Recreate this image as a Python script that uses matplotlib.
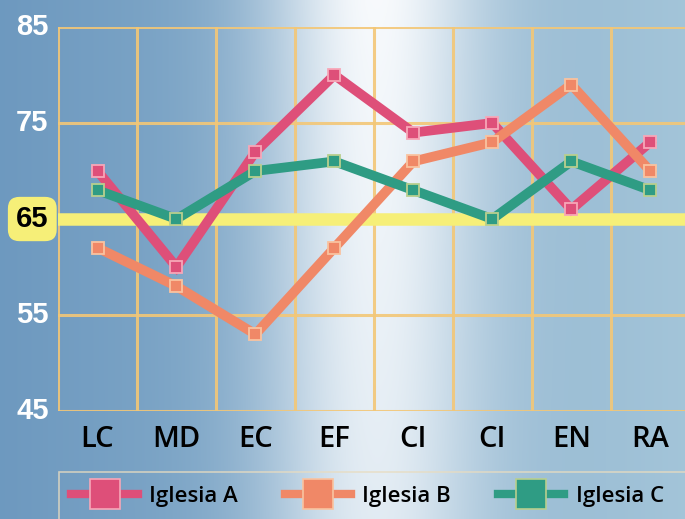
import matplotlib.pyplot as plt
import numpy as np
from matplotlib.patches import FancyBboxPatch
from matplotlib.lines import Line2D

# data
categories = ["LC", "MD", "EC", "EF", "CI", "CI", "EN", "RA"]
iglesia_a = [70, 60, 72, 80, 74, 75, 66, 73]
iglesia_b = [62, 58, 53, 62, 71, 73, 79, 70]
iglesia_c = [68, 65, 70, 71, 68, 65, 71, 68]
series_names = ["Iglesia A", "Iglesia B", "Iglesia C"]
y_ticks = [45, 55, 65, 75, 85]
ref_value = 65

colors = ["#de4f79", "#f08867", "#2f9c84"]
edge_colors = ["#f7a7b8", "#f9c3a0", "#b9cf8e"]
grid_color = "#f3c777"
yellow = "#f6ef78"

fig = plt.figure(figsize=(6.85, 5.19), dpi=100)

# background with bright spotlight in the middle
bg = fig.add_axes([0, 0, 1, 1])
bg.set_axis_off()
xx = np.linspace(0, 1, 400)
yy = np.linspace(0, 1, 300)
X, Y = np.meshgrid(xx, yy)
left = np.array([0.43, 0.60, 0.75])
right = np.array([0.64, 0.77, 0.85])
base = left[None, None, :] * (1 - X[..., None]) + right[None, None, :] * X[..., None]
spot = np.exp(-((X - 0.55) / 0.16) ** 2) * (0.8 + 0.2 * Y)
spot = np.clip(spot, 0, 1)[..., None]
img = base * (1 - spot) + np.array([0.97, 0.98, 0.99]) * spot
bg.imshow(img, extent=[0, 1, 0, 1], origin="lower", aspect="auto")
bg.set_xlim(0, 1)
bg.set_ylim(0, 1)

ax = fig.add_axes([0.0847, 0.208, 1 - 0.0847, 0.740])
ax.patch.set_alpha(0)
x = np.arange(len(categories))
ax.set_xlim(-0.5, 7.44)
ax.set_ylim(45, 85)

# grid
for gx in np.arange(-0.5, 8, 1):
    ax.axvline(gx, color=grid_color, lw=2.2, alpha=0.9, zorder=1)
for gy in y_ticks:
    if gy != ref_value:
        ax.axhline(gy, color=grid_color, lw=2.2, alpha=0.9, zorder=1)
ax.axhline(ref_value, color=yellow, lw=9, zorder=1.5)

for vals, c, ec in zip([iglesia_a, iglesia_b, iglesia_c], colors, edge_colors):
    ax.plot(x, vals, color=c, lw=7, solid_joinstyle="miter", zorder=3,
            marker="s", markersize=8, markerfacecolor=c,
            markeredgecolor=ec, markeredgewidth=1.3)

for s in ax.spines.values():
    s.set_visible(False)
ax.set_yticks([])
ax.set_xticks(x)
ax.set_xticklabels(categories, fontsize=21, fontfamily="Open Sans",
                   fontweight="semibold", color="black")
ax.tick_params(axis="x", length=0, pad=10)

# y labels
yfont = ["Liberation Sans Narrow", "Liberation Sans"]
for v in y_ticks:
    if v == ref_value:
        continue
    ax.text(-0.62, v, str(v), ha="right", va="center",
            fontsize=21, fontweight="bold", color="white",
            fontfamily=yfont, clip_on=False)
ax.text(-0.62, ref_value, str(ref_value), ha="right", va="center",
        fontsize=21, fontweight="bold", color="black",
        fontfamily=yfont, clip_on=False, zorder=5,
        bbox=dict(boxstyle="round,pad=0.28,rounding_size=0.4",
                  fc=yellow, ec="none"))

# legend box
box = FancyBboxPatch((0.086, -0.02), 0.95, 0.11, transform=fig.transFigure,
                     boxstyle="square,pad=0", fc="none", ec="#e8dcc0",
                     lw=1.2, alpha=0.8)
fig.patches.append(box)
handles = [Line2D([0], [0], color=c, lw=6, marker="s", markersize=21,
                  markerfacecolor=c, markeredgecolor=ec, markeredgewidth=1.2)
           for c, ec in zip(colors, edge_colors)]
leg = fig.legend(handles, series_names, loc="center left",
                 bbox_to_anchor=(0.075, 0.043), ncol=3, frameon=False,
                 handlelength=3.0, handletextpad=0.5, columnspacing=2.1,
                 prop={"family": "Open Sans", "weight": "semibold", "size": 16})

fig.savefig("out.png", dpi=100)
